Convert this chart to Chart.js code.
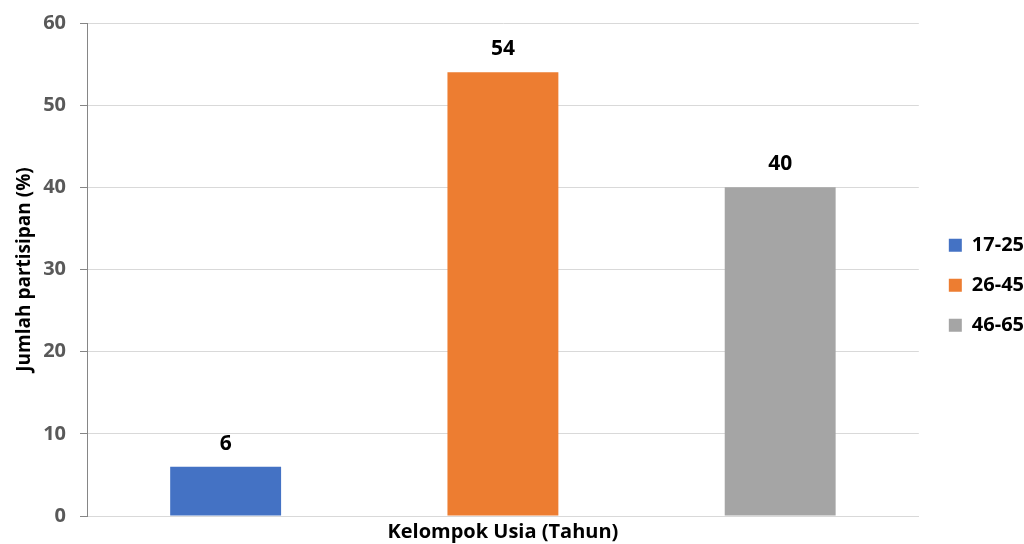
<!DOCTYPE html>
<html>
<head>
<meta charset="utf-8">
<script src="https://cdn.jsdelivr.net/npm/chart.js@4.4.0/dist/chart.umd.min.js"></script>
<style>
  html, body { margin: 0; padding: 0; background: #fff; }
  #wrap { width: 1024px; height: 544px; }
</style>
</head>
<body>
<div id="wrap"><canvas id="chart"></canvas></div>
<script>
const groups = ["17-25", "26-45", "46-65"]
const values = [6, 54, 40]
const colors = ["#4472C4", "#ED7D31", "#A5A5A5"]
const yTicks = [0, 10, 20, 30, 40, 50, 60]

const fontFam = "'Open Sans', sans-serif"

// label angka di atas batang
const valueLabels = {
    id: "valueLabels",
    afterDatasetsDraw(chart) {
        const ctx = chart.ctx
        ctx.save()
        ctx.font = "bold 21px " + fontFam
        ctx.fillStyle = "#000"
        ctx.textAlign = "center"
        ctx.textBaseline = "middle"
        chart.data.datasets.forEach((ds, i) => {
            const meta = chart.getDatasetMeta(i)
            meta.data.forEach((bar, j) => {
                ctx.fillText(ds.data[j], bar.x, bar.y - 23)
            })
        })
        ctx.restore()
    }
}

// geser legend sedikit ke kanan
const legendShift = {
    id: "legendShift",
    afterLayout(chart) {
        if (chart.legend) {
            chart.legend.left += 10
            chart.legend.right += 10
        }
    }
}

const datasets = groups.map((g, i) => ({
    label: g,
    data: [values[i]],
    backgroundColor: colors[i],
    borderWidth: 0,
    categoryPercentage: 1,
    barPercentage: 0.4
}))

new Chart(document.getElementById("chart"), {
    type: "bar",
    data: { labels: [""], datasets },
    options: {
        responsive: true,
        maintainAspectRatio: false,
        animation: false,
        layout: { padding: { top: 23, right: 0, bottom: 0, left: 0 } },
        plugins: {
            legend: {
                position: "right",
                maxWidth: 106,
                title: { display: true, text: "", font: { size: 3 }, padding: 0 },
                labels: {
                    color: "#000",
                    font: { family: fontFam, size: 20, weight: "bold" },
                    boxWidth: 13,
                    boxHeight: 13,
                    padding: 20
                }
            },
            tooltip: { enabled: false }
        },
        scales: {
            x: {
                grid: { display: false, drawTicks: false },
                border: { color: "#d9d9d9", width: 1 },
                ticks: { display: false },
                title: {
                    display: true,
                    text: "Kelompok Usia (Tahun)",
                    color: "#000",
                    font: { family: fontFam, size: 20, weight: "bold" },
                    padding: { top: 2, bottom: 0 }
                },
                afterFit: (s) => { s.height = 28 }
            },
            y: {
                min: 0,
                max: 60,
                afterBuildTicks: (s) => { s.ticks = yTicks.map(v => ({ value: v })) },
                grid: { color: "#d9d9d9", tickLength: 7, tickColor: "#868686" },
                border: { color: "#868686", width: 1 },
                ticks: {
                    color: "#595959",
                    padding: 14,
                    font: { family: fontFam, size: 20, weight: "bold" }
                },
                title: {
                    display: true,
                    text: "Jumlah partisipan (%)",
                    color: "#000",
                    font: { family: fontFam, size: 19, weight: "bold" },
                    padding: { top: 13, bottom: 0 }
                },
                afterFit: (s) => {
                    s.width = 87
                    s.paddingTop = 0
                    s.paddingBottom = 0
                }
            }
        }
    },
    plugins: [valueLabels, legendShift]
})
</script>
</body>
</html>
